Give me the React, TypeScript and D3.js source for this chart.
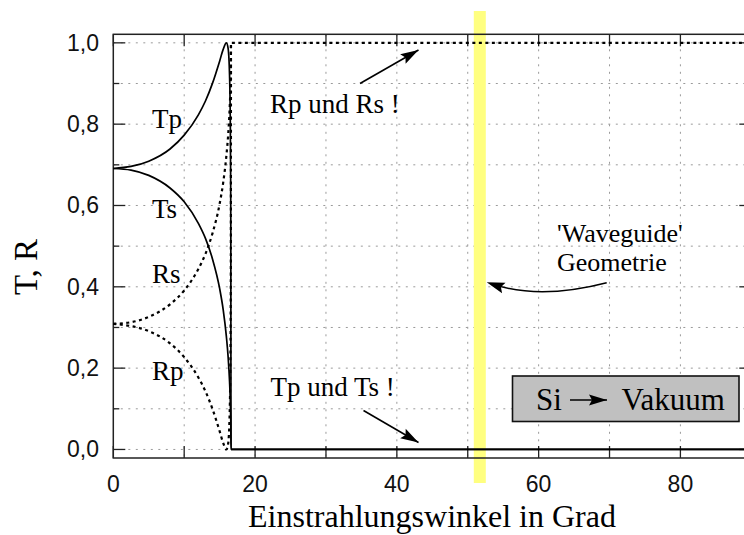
import React from "react";
import * as d3 from "d3";

// Fresnel transmission / reflection, silicon -> vacuum (values read per angle)
const angles = [0, 2.5, 5, 8, 10, 12, 13, 14, 15, 15.5, 15.95, 16.2, 16.4, 16.5, 16.55, 16.58, 16.6, 90];
const Tp = [0.691, 0.696, 0.709, 0.739, 0.773, 0.823, 0.857, 0.901, 0.955, 0.984, 1.0, 0.986, 0.92, 0.814, 0.688, 0.525, 0.0, 0.0];
const Ts = [0.691, 0.687, 0.674, 0.643, 0.609, 0.556, 0.519, 0.468, 0.396, 0.344, 0.278, 0.227, 0.167, 0.122, 0.088, 0.058, 0.0, 0.0];
const Rs = [0.309, 0.313, 0.326, 0.357, 0.391, 0.444, 0.481, 0.532, 0.604, 0.656, 0.722, 0.773, 0.833, 0.878, 0.912, 0.942, 1.0, 1.0];
const Rp = [0.309, 0.304, 0.291, 0.261, 0.227, 0.177, 0.143, 0.099, 0.045, 0.016, 0.0, 0.014, 0.08, 0.186, 0.312, 0.475, 1.0, 1.0];

const xTicks = [0, 10, 20, 30, 40, 50, 60, 70, 80, 90];
const xLabels = [0, 20, 40, 60, 80];
const yTicks = [0, 0.1, 0.2, 0.3, 0.4, 0.5, 0.6, 0.7, 0.8, 0.9, 1.0];
const yLabels = [0, 0.2, 0.4, 0.6, 0.8, 1.0];
const waveguideAngle = 51.7;

const W = 744;
const H = 535;
const SERIF = "'Liberation Serif', 'Times New Roman', serif";
const SANS = "'Liberation Sans', Arial, sans-serif";

const x = d3.scaleLinear().domain([0, 90]).range([113.3, 751.3]);
const y = d3.scaleLinear().domain([-0.021, 1.021]).range([458, 34.3]);

const line = d3
  .line<[number, number]>()
  .x((d) => x(d[0]))
  .y((d) => y(d[1]))
  .curve(d3.curveMonotoneX);

const pts = (vals: number[]) => angles.map((a, i) => [a, vals[i]] as [number, number]);

// Rp joins Rs once both reach total reflection; draw the shared part only once
const rpOwn = pts(Rp).filter((_, i) => i === 0 || Rp[i - 1] !== Rs[i - 1]);

function arrowHead(tx: number, ty: number, fx: number, fy: number, len = 18, half = 5.5) {
  const dx = tx - fx;
  const dy = ty - fy;
  const l = Math.hypot(dx, dy);
  const ux = dx / l;
  const uy = dy / l;
  const bx = tx - ux * len;
  const by = ty - uy * len;
  return `M${tx},${ty}L${bx - uy * half},${by + ux * half}L${bx + ux * 3},${by + uy * 3}L${bx + uy * half},${by - ux * half}Z`;
}

function Arrow({ x1, y1, x2, y2 }: { x1: number; y1: number; x2: number; y2: number }) {
  return (
    <g>
      <line x1={x1} y1={y1} x2={x2} y2={y2} stroke="#000" strokeWidth={1.6} />
      <path d={arrowHead(x2, y2, x1, y1)} fill="#000" />
    </g>
  );
}

const fmt = (v: number) => v.toFixed(1).replace(".", ",");

export default function App() {
  const x0 = x(0);
  const x1 = x(90);
  const yTop = y.range()[1];
  const yBot = y.range()[0];
  return (
    <div style={{ position: "absolute", left: 0, top: 0 }}>
      <svg width={W} height={H} style={{ display: "block", background: "#fff" }}>
        {/* grid */}
        <g stroke="#9a9a9a" strokeWidth={1} strokeDasharray="2 5.5">
          {xTicks.slice(1, -1).map((t) => (
            <line key={"gx" + t} x1={x(t)} x2={x(t)} y1={yTop} y2={yBot} />
          ))}
          {yTicks.map((t) => (
            <line key={"gy" + t} x1={x0} x2={x1} y1={y(t)} y2={y(t)} />
          ))}
        </g>

        {/* waveguide geometry marker */}
        <rect x={x(waveguideAngle) - 6} y={11} width={12} height={472} fill="#ffff80" />

        {/* frame */}
        <rect x={x0} y={yTop} width={x1 - x0} height={yBot - yTop} fill="none" stroke="#222" strokeWidth={1.5} />
        <g stroke="#222" strokeWidth={1.3}>
          {xTicks.map((t) => (
            <g key={"tx" + t}>
              <line x1={x(t)} x2={x(t)} y1={yBot} y2={yBot - 12} />
              <line x1={x(t)} x2={x(t)} y1={yTop} y2={yTop + 12} />
            </g>
          ))}
          {yTicks.map((t, i) => {
            const len = i % 2 === 0 ? 12 : 6;
            return (
              <g key={"ty" + t}>
                <line x1={x0} x2={x0 + len} y1={y(t)} y2={y(t)} />
                <line x1={x1} x2={x1 - len} y1={y(t)} y2={y(t)} />
              </g>
            );
          })}
        </g>

        {/* tick labels */}
        <g fontFamily={SANS} fontSize={23} fill="#111">
          {xLabels.map((t) => (
            <text key={"lx" + t} x={x(t)} y={491.5} textAnchor="middle">
              {t}
            </text>
          ))}
          {yLabels.map((t) => (
            <text key={"ly" + t} x={99} y={y(t) + 8} textAnchor="end">
              {fmt(t)}
            </text>
          ))}
        </g>

        {/* curves */}
        <g fill="none" stroke="#000">
          <path d={line(pts(Rs)) ?? ""} strokeWidth={2.2} strokeDasharray="3 3.5" />
          <path d={line(rpOwn) ?? ""} strokeWidth={2.2} strokeDasharray="3 3.5" />
          <path d={line(pts(Ts)) ?? ""} strokeWidth={1.7} />
          <path d={line(pts(Tp)) ?? ""} strokeWidth={1.7} />
        </g>

        {/* curve labels */}
        <g fontFamily={SERIF} fontSize={27} fill="#000">
          <text x={152} y={128}>Tp</text>
          <text x={152} y={218}>Ts</text>
          <text x={152} y={283}>Rs</text>
          <text x={152} y={380}>Rp</text>
          <text x={270} y={113}>Rp und Rs !</text>
          <text x={270.5} y={396}>Tp und Ts !</text>
        </g>
        <g fontFamily={SERIF} fontSize={26} fill="#000">
          <text x={557} y={242}>'Waveguide'</text>
          <text x={557} y={271}>Geometrie</text>
        </g>

        <Arrow x1={360} y1={83.5} x2={418.5} y2={50} />
        <Arrow x1={363.5} y1={410.5} x2={418.5} y2={442.5} />

        {/* curved pointer to the waveguide band */}
        <path d="M606.7,282.7 Q540,300 492,284" fill="none" stroke="#000" strokeWidth={1.6} />
        <path d={arrowHead(486.7, 282.3, 540, 300)} fill="#000" />

        {/* medium box */}
        <rect x={512.5} y={376} width={226.5} height={45.5} fill="#c0c0c0" stroke="#111" strokeWidth={1.6} />
        <g fontFamily={SERIF} fontSize={31} fill="#000">
          <text x={536} y={410}>Si</text>
          <text x={621.5} y={410}>Vakuum</text>
        </g>
        <Arrow x1={570} y1={400} x2={607} y2={400} />

        {/* axis titles */}
        <text x={432} y={527} textAnchor="middle" fontFamily={SERIF} fontSize={32} fill="#000">
          Einstrahlungswinkel in Grad
        </text>
        <text
          transform="translate(37,267) rotate(-90)"
          textAnchor="middle"
          fontFamily={SERIF}
          fontSize={33}
          fill="#000"
        >
          T, R
        </text>
      </svg>
    </div>
  );
}
